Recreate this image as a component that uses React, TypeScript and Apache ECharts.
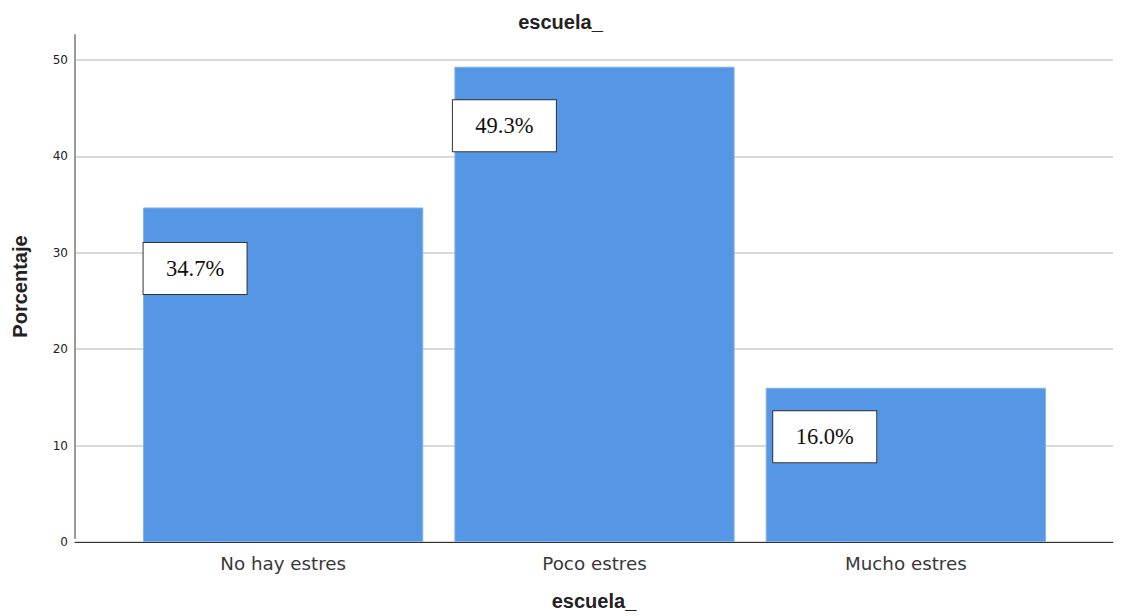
import React, { useEffect, useRef } from "react";
import * as echarts from "echarts";

const categories = ["No hay estres", "Poco estres", "Mucho estres"];
const values = [34.7, 49.3, 16.0];
const labelTexts = ["34.7%", "49.3%", "16.0%"];
const yTicks = [0, 10, 20, 30, 40, 50];
const titleText = "escuela_";
const yName = "Porcentaje";
const xName = "escuela_";

// label box placement relative to each bar (presentation only)
const labelPos: [number, number][] = [
  [52, 61],
  [50, 59],
  [59, 49],
];

export default function App() {
  const ref = useRef<HTMLDivElement>(null);
  useEffect(() => {
    if (!ref.current) return;
    const chart = echarts.init(ref.current, undefined, { renderer: "svg" });
    const sans = "DejaVu Sans, Verdana, sans-serif";
    const boldText = {
      fontFamily: "Liberation Sans, Arial, sans-serif",
      fontSize: 20,
      fontWeight: "bold",
      color: "#222",
    };
    chart.setOption({
      animation: false,
      backgroundColor: "#ffffff",
      title: {
        text: titleText,
        left: "center",
        top: 7,
        textStyle: boldText,
      },
      grid: [
        { left: 75, right: 8, top: 35, bottom: 74 },
        { left: 75, right: 8, top: 60, bottom: 74 },
        { left: 127.5, right: 59.5, top: 60, bottom: 74 },
      ],
      xAxis: [
        {
          gridIndex: 0,
          type: "value",
          min: 0,
          max: 1,
          axisLine: { show: false },
          axisTick: { show: false },
          axisLabel: { show: false },
          splitLine: { show: false },
          name: xName,
          nameLocation: "middle",
          nameGap: 53,
          nameTextStyle: boldText,
        },
        {
          gridIndex: 1,
          type: "value",
          min: 0,
          max: 1,
          axisLine: { show: true, lineStyle: { color: "#333", width: 1 } },
          axisTick: { show: false },
          axisLabel: { show: false },
          splitLine: { show: false },
        },
        {
          gridIndex: 2,
          type: "category",
          data: categories,
          axisLine: { show: false },
          axisTick: { show: false },
          axisLabel: {
            fontFamily: sans,
            fontSize: 18.3,
            color: "#383838",
            margin: 12,
          },
          splitLine: { show: false },
        },
      ],
      yAxis: [
        {
          gridIndex: 0,
          type: "value",
          min: 0,
          max: 52.6,
          axisLine: { show: true, lineStyle: { color: "#999", width: 2 } },
          axisTick: { show: false },
          axisLabel: { show: false },
          splitLine: { show: false },
          name: yName,
          nameLocation: "middle",
          nameGap: 45,
          nameTextStyle: boldText,
        },
        {
          gridIndex: 1,
          type: "value",
          min: yTicks[0],
          max: yTicks[yTicks.length - 1],
          interval: 10,
          axisLine: { show: false },
          axisTick: { show: false },
          axisLabel: { fontFamily: sans, fontSize: 12, color: "#222", margin: 7 },
          splitLine: { show: true, lineStyle: { color: "#d9d9d9", width: 2 } },
        },
        {
          gridIndex: 2,
          type: "value",
          min: yTicks[0],
          max: yTicks[yTicks.length - 1],
          show: false,
        },
      ],
      series: [
        {
          type: "bar",
          xAxisIndex: 2,
          yAxisIndex: 2,
          barWidth: "90%",
          itemStyle: { color: "#5596e5", borderColor: "#7fb0ec", borderWidth: 1 },
          data: values.map((v, i) => ({
            value: v,
            label: {
              show: true,
              position: labelPos[i],
              formatter: labelTexts[i],
              fontFamily: "Liberation Serif, Times New Roman, serif",
              fontSize: 22.5,
              color: "#111",
              backgroundColor: "#ffffff",
              borderColor: "#333",
              borderWidth: 1,
              width: 103,
              height: 51,
              lineHeight: 51,
              align: "center",
              verticalAlign: "middle",
            },
          })),
        },
      ],
    });
    return () => chart.dispose();
  }, []);
  return (
    <div
      ref={ref}
      style={{ position: "absolute", left: 0, top: 0, width: 1121, height: 616 }}
    />
  );
}
